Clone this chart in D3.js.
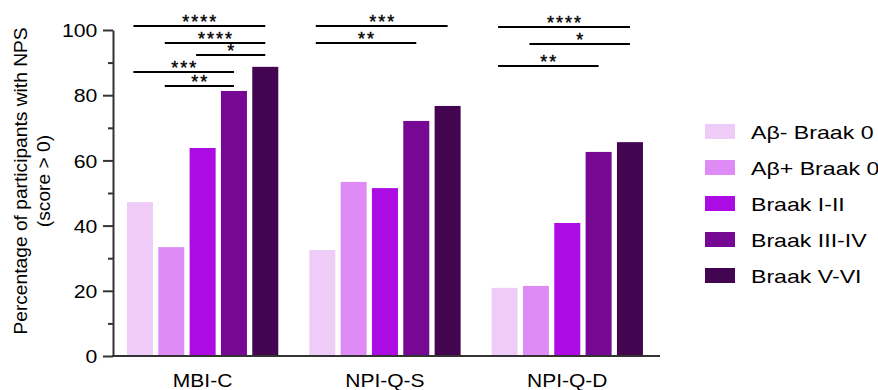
<!DOCTYPE html>
<html>
<head>
<meta charset="utf-8">
<script src="https://cdn.jsdelivr.net/npm/d3@7"></script>
<style>
  html, body { margin: 0; padding: 0; background: #ffffff; }
  svg { display: block; font-family: "Liberation Sans", Arial, Helvetica, sans-serif; }
</style>
</head>
<body>
<svg id="chart" width="878" height="390"></svg>
<script>
// ---------- data ----------
const categories = ["MBI-C", "NPI-Q-S", "NPI-Q-D"];
const seriesNames = ["Aβ- Braak 0", "Aβ+ Braak 0", "Braak I-II", "Braak III-IV", "Braak V-VI"];
const seriesColors = ["#EECCF7", "#DE8BF6", "#AC0BE3", "#760893", "#43054F"];
const abNegBraak0 = [47.2, 32.5, 20.9];
const abPosBraak0 = [33.4, 53.4, 21.5];
const braakI_II   = [63.8, 51.5, 40.8];
const braakIII_IV = [81.3, 72.1, 62.6];
const braakV_VI   = [88.7, 76.7, 65.6];
const seriesValues = [abNegBraak0, abPosBraak0, braakI_II, braakIII_IV, braakV_VI];
const yMajorTicks = [0, 20, 40, 60, 80, 100];
const yMinorTicks = [10, 30, 50, 70, 90];
const yLabelLines = ["Percentage of participants with NPS", "(score > 0)"];
// significance brackets: category, from series index, to series index, level (in % units), label
const sigCategory = ["MBI-C", "MBI-C", "MBI-C", "MBI-C", "MBI-C", "NPI-Q-S", "NPI-Q-S", "NPI-Q-D", "NPI-Q-D", "NPI-Q-D"];
const sigFrom     = [0, 1, 2, 0, 1, 0, 0, 0, 1, 0];
const sigTo       = [4, 4, 4, 3, 3, 4, 3, 4, 4, 3];
const sigLevel    = [101.3, 96.1, 92.4, 87.2, 82.8, 101.3, 96.1, 101.0, 95.8, 89.0];
const sigLabel    = ["****", "****", "*", "***", "**", "***", "**", "****", "*", "**"];

// ---------- layout ----------
const svg = d3.select("#chart");
svg.append("rect").attr("width", 878).attr("height", 390).attr("fill", "#fff");

const axisColor = "#333333";
const plotLeft = 113, plotRight = 660, plotTop = 30, plotBottom = 356;

const y = d3.scaleLinear().domain([0, 100]).range([plotBottom, plotTop]);
const x0 = d3.scaleBand().domain(categories).range([plotLeft, plotRight])
  .paddingInner(0.17).paddingOuter(0.085).align(0.45);
const x1 = d3.scaleBand().domain(d3.range(seriesNames.length)).range([0, x0.bandwidth()])
  .paddingInner(0.17).paddingOuter(0);

// ---------- bars ----------
const barData = [];
categories.forEach((c, ci) => {
  seriesValues.forEach((vals, si) => barData.push({ c, si, v: vals[ci] }));
});
svg.append("g").selectAll("rect").data(barData).join("rect")
  .attr("x", d => x0(d.c) + x1(d.si))
  .attr("width", x1.bandwidth())
  .attr("y", d => y(d.v))
  .attr("height", d => y(0) - y(d.v))
  .attr("fill", d => seriesColors[d.si]);

// ---------- axes ----------
const tickFont = 18.6, stretch = 1.14;
const yAxisG = svg.append("g").attr("transform", `translate(${plotLeft},0)`)
  .call(d3.axisLeft(y).tickValues(yMajorTicks).tickSize(10).tickSizeOuter(0).tickPadding(3.8));
yAxisG.select(".domain").attr("stroke", axisColor).attr("stroke-width", 2);
yAxisG.selectAll(".tick line").attr("stroke", axisColor).attr("stroke-width", 2);
yAxisG.selectAll(".tick text")
  .attr("font-size", tickFont)
  .attr("font-family", "Liberation Sans, Arial, sans-serif")
  .attr("fill", "#000")
  .attr("dy", "0.36em")
  .attr("transform", `scale(${stretch},1)`);

const yMinorG = svg.append("g").attr("transform", `translate(${plotLeft},0)`)
  .call(d3.axisLeft(y).tickValues(yMinorTicks).tickSize(5).tickSizeOuter(0).tickFormat(""));
yMinorG.select(".domain").remove();
yMinorG.selectAll(".tick line").attr("stroke", axisColor).attr("stroke-width", 2);

// x axis line
svg.append("line")
  .attr("x1", plotLeft - 1).attr("x2", plotRight)
  .attr("y1", y(0)).attr("y2", y(0))
  .attr("stroke", axisColor).attr("stroke-width", 2);

// x category labels
svg.append("g").selectAll("text").data(categories).join("text")
  .attr("transform", d => `translate(${x0(d) + x0.bandwidth() / 2},387) scale(1.13,1)`)
  .attr("text-anchor", "middle")
  .attr("font-size", tickFont)
  .attr("fill", "#000")
  .text(d => d);

// y axis label
const yLab = svg.append("text")
  .attr("transform", "translate(27,181) rotate(-90)")
  .attr("text-anchor", "middle")
  .attr("font-size", 19.2)
  .attr("fill", "#000");
yLabelLines.forEach((t, i) => {
  yLab.append("tspan").attr("x", 0).attr("dy", i === 0 ? 0 : 22.5).text(t);
});

// ---------- significance brackets ----------
const sigG = svg.append("g");
sigLabel.forEach((lab, i) => {
  const c = sigCategory[i];
  const xa = x0(c) + x1(sigFrom[i]) + x1.bandwidth() / 2 - x1.bandwidth() * 0.25;
  const xb = x0(c) + x1(sigTo[i]) + x1.bandwidth() / 2;
  const yy = Math.round(y(sigLevel[i]));
  sigG.append("line")
    .attr("x1", xa).attr("x2", xb).attr("y1", yy).attr("y2", yy)
    .attr("stroke", "#000").attr("stroke-width", 2);
  sigG.append("text")
    .attr("x", (xa + xb) / 2 + 1)
    .attr("y", yy + 1.5)
    .attr("text-anchor", "middle")
    .attr("font-size", 18)
    .attr("letter-spacing", 2)
    .attr("fill", "#000")
    .attr("stroke", "#000")
    .attr("stroke-width", 0.4)
    .text(lab);
});

// ---------- legend ----------
const legX = 705, legTop = 124, legStep = 36, swW = 30, swH = 15;
const legG = svg.append("g");
seriesNames.forEach((name, i) => {
  const top = legTop + i * legStep;
  legG.append("rect")
    .attr("x", legX).attr("y", top).attr("width", swW).attr("height", swH)
    .attr("fill", seriesColors[i]);
  legG.append("text")
    .attr("transform", `translate(${legX + 46},${top + swH}) scale(1.25,1)`)
    .attr("font-size", 18.5)
    .attr("fill", "#000")
    .text(name);
});
</script>
</body>
</html>
